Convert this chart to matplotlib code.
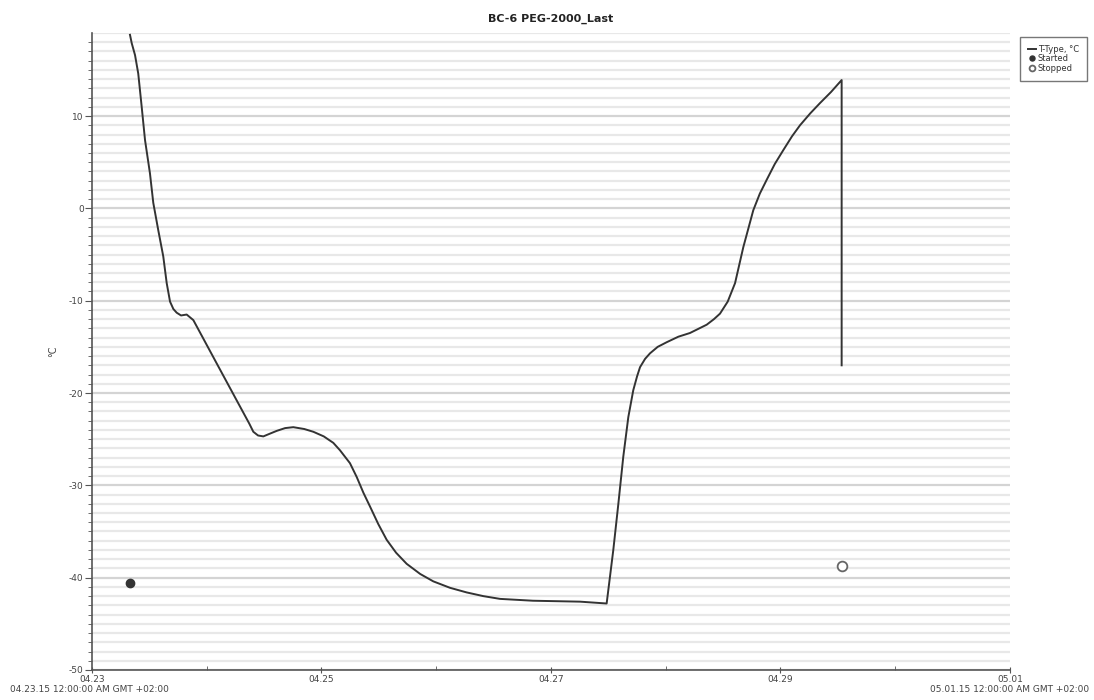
import matplotlib
matplotlib.use("Agg")
import matplotlib.pyplot as plt
import matplotlib.dates as mdates
from datetime import datetime, timedelta

plt.rcParams['axes.unicode_minus'] = False

start = datetime(2015, 4, 23)

# days since 04.23 00:00 and logged temperature (T-Type, °C)
days = [0.331, 0.346, 0.375, 0.403, 0.433, 0.462, 0.505, 0.534, 0.578, 0.621,
        0.651, 0.680, 0.709, 0.738, 0.776, 0.825, 0.883, 1.087, 1.261, 1.370, 1.406,
        1.447, 1.493, 1.551, 1.610, 1.683, 1.754, 1.850, 1.929, 2.020, 2.103, 2.161,
        2.248, 2.307, 2.365, 2.423, 2.495, 2.568, 2.650, 2.742, 2.860, 2.974, 3.120,
        3.265, 3.410, 3.556, 3.843, 4.253, 4.485, 4.543, 4.587, 4.630, 4.674,
        4.717, 4.750, 4.776, 4.820, 4.863, 4.930, 5.008, 5.110, 5.211, 5.357, 5.420,
        5.473, 5.540, 5.604, 5.676, 5.763, 5.820, 5.880, 5.950, 6.024, 6.100, 6.170,
        6.260, 6.344, 6.440, 6.533, 6.533]
temp = [18.8, 17.9, 16.6, 14.6, 11.0, 7.4, 3.8, 0.6, -2.4, -5.2,
        -8.1, -10.1, -10.9, -11.3, -11.6, -11.5, -12.1, -16.8, -20.8, -23.3, -24.2,
        -24.6, -24.7, -24.4, -24.1, -23.8, -23.7, -23.9, -24.2, -24.7, -25.4, -26.2,
        -27.6, -29.1, -30.8, -32.3, -34.2, -35.9, -37.3, -38.5, -39.6, -40.4, -41.1,
        -41.6, -42.0, -42.3, -42.5, -42.6, -42.8, -37.0, -32.0, -26.9, -22.6,
        -19.7, -18.2, -17.2, -16.3, -15.7, -15.0, -14.5, -13.9, -13.5, -12.6, -12.0,
        -11.4, -10.1, -8.1, -4.2, -0.2, 1.6, 3.1, 4.8, 6.3, 7.8, 9.0,
        10.3, 11.4, 12.6, 13.9, -17.0]

started_day, started_temp = 0.331, -40.6
stopped_day, stopped_temp = 6.533, -38.75

t = [start + timedelta(days=d) for d in days]

fig = plt.figure(figsize=(10.94, 7.0), dpi=100)
ax = fig.add_axes([0.0841, 0.0429, 0.8391, 0.91])

# gridlines every degree, heavier every 10
for y in range(-50, 20):
    if y % 10 == 0:
        ax.axhline(y, color='#d4d4d4', lw=1.6, zorder=0)
    else:
        ax.axhline(y, color='#e8e8e8', lw=1.6, zorder=0)

ax.plot(t, temp, color='#333333', lw=1.4, label='T-Type, °C')
ax.plot([start + timedelta(days=started_day)], [started_temp], 'o', color='#333333',
        ms=6, label='Started', ls='none')
ax.plot([start + timedelta(days=stopped_day)], [stopped_temp], 'o', mfc='white', mec='#666666',
        mew=1.3, ms=7, label='Stopped', ls='none')

ax.set_xlim(start, start + timedelta(days=8))
ax.set_ylim(-50, 19)

ax.xaxis.set_major_locator(mdates.DayLocator(bymonthday=[23, 25, 27, 29, 1]))
ax.xaxis.set_minor_locator(mdates.DayLocator())
ax.xaxis.set_major_formatter(mdates.DateFormatter('%m.%d'))
ax.set_yticks(range(-50, 11, 10))
ax.set_yticks(range(-50, 19), minor=True)

for s in ['top', 'right']:
    ax.spines[s].set_visible(False)
for s in ['left', 'bottom']:
    ax.spines[s].set_color('#555555')
    ax.spines[s].set_linewidth(1.2)

ax.tick_params(axis='both', which='major', labelsize=6.5, labelcolor='#444444',
               color='#555555', length=5, pad=1)
ax.tick_params(axis='y', which='minor', length=3, color='#555555')
ax.tick_params(axis='x', which='minor', length=3, color='#555555', direction='in')
ax.tick_params(axis='x', which='major', direction='inout')

ax.set_ylabel('°C', fontsize=7, color='#444444', labelpad=8)
ax.set_title('BC-6 PEG-2000_Last', fontsize=8, fontweight='bold', color='#222222', pad=8)

fig.text(0.009, 0.011, '04.23.15 12:00:00 AM GMT +02:00', fontsize=6.5, color='#444444')
fig.text(0.996, 0.011, '05.01.15 12:00:00 AM GMT +02:00', fontsize=6.5, color='#444444', ha='right')

leg = fig.legend(loc='upper left', bbox_to_anchor=(0.929, 0.953), fontsize=6,
                 frameon=True, fancybox=False, handlelength=1.0, handletextpad=0.2,
                 borderpad=0.9, labelspacing=0.1, edgecolor='#555555', markerscale=0.6)
for txt in leg.get_texts():
    txt.set_color('#333333')

fig.savefig('out.png', dpi=100)
